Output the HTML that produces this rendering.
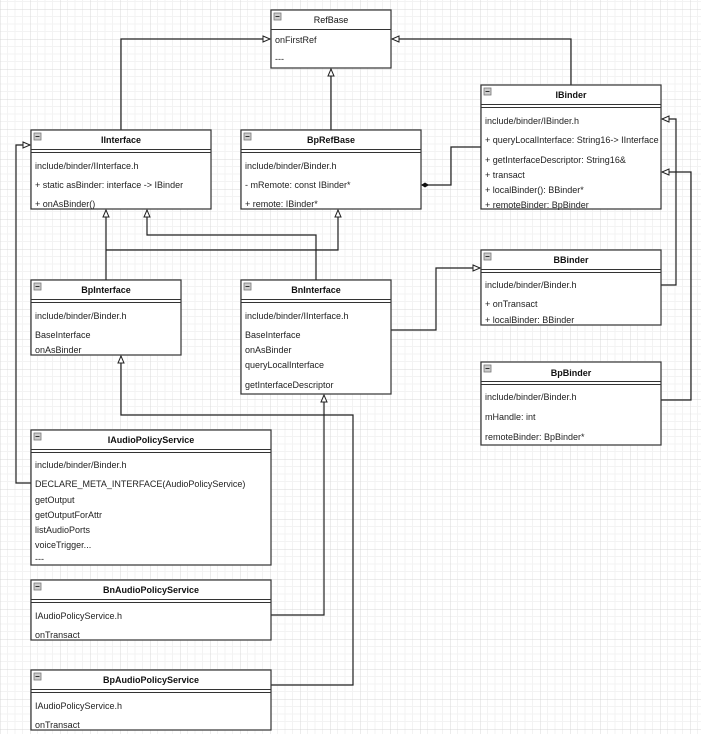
<!DOCTYPE html>
<html><head><meta charset="utf-8"><style>
html,body{margin:0;padding:0;background:#fff;width:701px;height:734px;overflow:hidden}
svg{display:block}
text{font-family:"Liberation Sans",Arial,sans-serif;font-size:9px;fill:#222}
.h{font-weight:bold;text-anchor:middle;fill:#111}
</style></head><body>
<svg width="701" height="734" xmlns="http://www.w3.org/2000/svg">
<defs>
<pattern id="g" width="30" height="30" patternUnits="userSpaceOnUse" x="0" y="9">
<path d="M7.5 0V30M15 0V30M22.5 0V30M0 7.5H30M0 15H30M0 22.5H30" stroke="#f3f3f3" stroke-width="1"/>
<path d="M0 0V30M0 0H30" stroke="#d9d9d9" stroke-width="1"/>
</pattern>
<marker id="a" markerWidth="10" markerHeight="10" refX="8" refY="4" orient="auto" markerUnits="userSpaceOnUse">
<path d="M1 1L8 4L1 7Z" fill="#fff" stroke="#222" stroke-width="1"/>
</marker>
<g id="m"><rect x="0" y="0" width="7" height="7" fill="#ccc" stroke="#777" stroke-width="0.8"/><path d="M1.5 3.5H5.5" stroke="#333" stroke-width="1"/></g>
</defs>
<rect width="701" height="734" fill="url(#g)"/>

<g fill="none" stroke="#222" stroke-width="1.2">
<path d="M121 130V39H270" marker-end="url(#a)"/>
<path d="M331 130V69" marker-end="url(#a)"/>
<path d="M571 85V39H392" marker-end="url(#a)"/>
<path d="M481 147H451V185H422"/>
<path d="M106 280V210" marker-end="url(#a)"/>
<path d="M106 250H338V210" marker-end="url(#a)"/>
<path d="M316 280V235H147V210" marker-end="url(#a)"/>
<path d="M391 330H436V268H480" marker-end="url(#a)"/>
<path d="M661 285H676V119H662" marker-end="url(#a)"/>
<path d="M661 400H691V172H662" marker-end="url(#a)"/>
<path d="M31 483H16V145H30" marker-end="url(#a)"/>
<path d="M271 615H324V395" marker-end="url(#a)"/>
<path d="M271 685H353V415H121V356" marker-end="url(#a)"/>
</g>

<g stroke="#333" stroke-width="1.2" fill="#fff">
<rect x="271" y="10" width="120" height="58"/>
<rect x="31" y="130" width="180" height="79"/>
<rect x="241" y="130" width="180" height="79"/>
<rect x="481" y="85" width="180" height="124"/>
<rect x="481" y="250" width="180" height="75"/>
<rect x="481" y="362" width="180" height="83"/>
<rect x="31" y="280" width="150" height="75"/>
<rect x="241" y="280" width="150" height="114"/>
<rect x="31" y="430" width="240" height="135"/>
<rect x="31" y="580" width="240" height="60"/>
<rect x="31" y="670" width="240" height="60"/>
</g>
<path d="M421 185L425 182.5L429 185L425 187.5Z" fill="#111"/>
<g stroke="#333" stroke-width="1" fill="none">
<path d="M271 29.5H391"/>
<path d="M31 149.5H211M31 152.5H211"/>
<path d="M241 149.5H421M241 152.5H421"/>
<path d="M481 104.5H661M481 107.5H661"/>
<path d="M481 269.5H661M481 272.5H661"/>
<path d="M481 381.5H661M481 384.5H661"/>
<path d="M31 299.5H181M31 302.5H181"/>
<path d="M241 299.5H391M241 302.5H391"/>
<path d="M31 449.5H271M31 452.5H271"/>
<path d="M31 599.5H271M31 602.5H271"/>
<path d="M31 689.5H271M31 692.5H271"/>
</g>
<use href="#m" x="274" y="13"/>
<use href="#m" x="34" y="133"/>
<use href="#m" x="244" y="133"/>
<use href="#m" x="484" y="88"/>
<use href="#m" x="484" y="253"/>
<use href="#m" x="484" y="365"/>
<use href="#m" x="34" y="283"/>
<use href="#m" x="244" y="283"/>
<use href="#m" x="34" y="433"/>
<use href="#m" x="34" y="583"/>
<use href="#m" x="34" y="673"/>

<text x="331" y="23" class="h" style="font-weight:normal">RefBase</text>
<text x="275" y="43">onFirstRef</text>
<text x="275" y="62">---</text>

<text x="121" y="143" class="h">IInterface</text>
<text x="35" y="169">include/binder/IInterface.h</text>
<text x="35" y="188">+ static asBinder: interface -&gt; IBinder</text>
<text x="35" y="207">+ onAsBinder()</text>

<text x="331" y="143" class="h">BpRefBase</text>
<text x="245" y="169">include/binder/Binder.h</text>
<text x="245" y="188">- mRemote: const IBinder*</text>
<text x="245" y="207">+ remote: IBinder*</text>

<text x="571" y="98" class="h">IBinder</text>
<text x="485" y="124">include/binder/IBinder.h</text>
<text x="485" y="143">+ queryLocalInterface: String16-&gt; IInterface</text>
<text x="485" y="163">+ getInterfaceDescriptor: String16&amp;</text>
<text x="485" y="178">+ transact</text>
<text x="485" y="193">+ localBinder(): BBinder*</text>
<text x="485" y="208">+ remoteBinder: BpBinder</text>

<text x="571" y="263" class="h">BBinder</text>
<text x="485" y="288">include/binder/Binder.h</text>
<text x="485" y="307">+ onTransact</text>
<text x="485" y="323">+  localBinder: BBinder</text>

<text x="571" y="376" class="h">BpBinder</text>
<text x="485" y="400">include/binder/Binder.h</text>
<text x="485" y="420">mHandle: int</text>
<text x="485" y="440">remoteBinder: BpBinder*</text>

<text x="106" y="293" class="h">BpInterface</text>
<text x="35" y="319">include/binder/Binder.h</text>
<text x="35" y="338">BaseInterface</text>
<text x="35" y="353">onAsBinder</text>

<text x="316" y="293" class="h">BnInterface</text>
<text x="245" y="319">include/binder/IInterface.h</text>
<text x="245" y="338">BaseInterface</text>
<text x="245" y="353">onAsBinder</text>
<text x="245" y="368">queryLocalInterface</text>
<text x="245" y="388">getInterfaceDescriptor</text>

<text x="151" y="443" class="h">IAudioPolicyService</text>
<text x="35" y="468">include/binder/Binder.h</text>
<text x="35" y="487">DECLARE_META_INTERFACE(AudioPolicyService)</text>
<text x="35" y="503">getOutput</text>
<text x="35" y="518">getOutputForAttr</text>
<text x="35" y="533">listAudioPorts</text>
<text x="35" y="548">voiceTrigger...</text>
<text x="35" y="562">---</text>

<text x="151" y="593" class="h">BnAudioPolicyService</text>
<text x="35" y="619">IAudioPolicyService.h</text>
<text x="35" y="638">onTransact</text>

<text x="151" y="683" class="h">BpAudioPolicyService</text>
<text x="35" y="709">IAudioPolicyService.h</text>
<text x="35" y="728">onTransact</text>
</svg>
</body></html>
